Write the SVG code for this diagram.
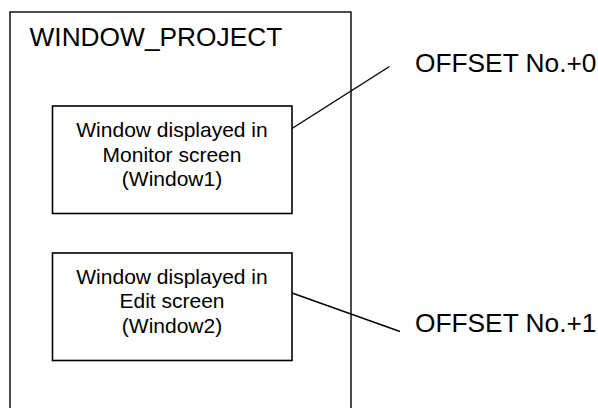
<svg xmlns="http://www.w3.org/2000/svg" width="598" height="408" viewBox="0 0 598 408">
<style>
.frame{fill:none;stroke:#000;stroke-width:1.4}
.box{fill:#fff;stroke:#000;stroke-width:1.6}
.conn{fill:none;stroke:#000;stroke-width:1.4}
.t{font-family:"Liberation Sans",Arial,sans-serif;fill:#000}
.big{font-size:26.3px}
.small{font-size:21px;text-anchor:middle}
</style>
<rect width="598" height="408" fill="#fff"/>
<g id="window_project">
<rect class="frame" x="10" y="12" width="341" height="410"/>
<text class="t big" x="29.5" y="46">WINDOW_PROJECT</text>
</g>
<g id="window1">
<rect class="box" x="52.5" y="106" width="239.5" height="107.5"/>
<text class="t small" x="172" y="136.7">Window displayed in</text>
<text class="t small" x="172" y="161.5">Monitor screen</text>
<text class="t small" x="172" y="186">(Window1)</text>
</g>
<g id="window2">
<rect class="box" x="52.5" y="253" width="239.5" height="107.5"/>
<text class="t small" x="172" y="283.5">Window displayed in</text>
<text class="t small" x="172" y="308.3">Edit screen</text>
<text class="t small" x="172" y="332.8">(Window2)</text>
</g>
<g id="label0">
<text class="t big" x="415" y="71.7">OFFSET No.+0</text>
</g>
<g id="label1">
<text class="t big" x="415" y="332">OFFSET No.+1</text>
</g>
<g id="connectors">
<line class="conn" x1="292" y1="128.5" x2="389.5" y2="66.5"/>
<line class="conn" x1="292" y1="293" x2="400" y2="331.5"/>
</g>
</svg>
